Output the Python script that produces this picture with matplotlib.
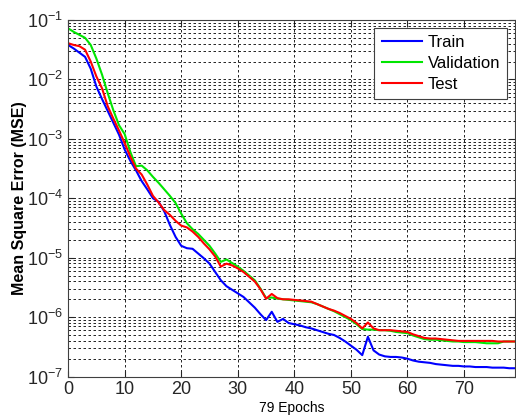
import numpy as np
import matplotlib
matplotlib.use("Agg")
import matplotlib.pyplot as plt
from matplotlib.ticker import LogLocator, MultipleLocator, NullFormatter

plt.rcParams['font.family'] = ['Liberation Sans', 'DejaVu Sans']

# epochs 0..79, values as log10(MSE)
epochs = np.arange(80)

train_log10 = [
	-1.42, -1.48, -1.55, -1.62, -1.82, -2.12, -2.33, -2.53, -2.73, -2.93,
	-3.18, -3.37, -3.53, -3.71, -3.85, -4.00, -4.06, -4.22, -4.45, -4.65,
	-4.80, -4.84, -4.85, -4.93, -5.01, -5.10, -5.24, -5.38, -5.48, -5.54,
	-5.60, -5.66, -5.75, -5.84, -5.95, -6.05, -5.91, -6.08, -6.03, -6.10,
	-6.12, -6.14, -6.17, -6.19, -6.22, -6.25, -6.28, -6.30, -6.35, -6.41,
	-6.48, -6.55, -6.64, -6.33, -6.56, -6.63, -6.66, -6.67, -6.67, -6.68,
	-6.70, -6.73, -6.75, -6.76, -6.77, -6.79, -6.80, -6.81, -6.82, -6.82,
	-6.83, -6.83, -6.84, -6.84, -6.84, -6.85, -6.85, -6.85, -6.86, -6.86,
]

validation_log10 = [
	-1.14, -1.20, -1.25, -1.30, -1.42, -1.65, -1.92, -2.23, -2.52, -2.77,
	-2.92, -3.22, -3.46, -3.45, -3.53, -3.64, -3.74, -3.85, -3.96, -4.08,
	-4.26, -4.42, -4.52, -4.60, -4.70, -4.80, -4.93, -5.07, -5.03, -5.09,
	-5.15, -5.22, -5.30, -5.38, -5.52, -5.68, -5.67, -5.69, -5.70, -5.71,
	-5.72, -5.73, -5.74, -5.75, -5.78, -5.82, -5.86, -5.90, -5.95, -6.00,
	-6.05, -6.12, -6.20, -6.21, -6.21, -6.22, -6.22, -6.23, -6.25, -6.26,
	-6.27, -6.31, -6.34, -6.37, -6.38, -6.38, -6.39, -6.40, -6.41, -6.41,
	-6.42, -6.42, -6.42, -6.43, -6.44, -6.44, -6.44, -6.41, -6.41, -6.41,
]

test_log10 = [
	-1.39, -1.42, -1.44, -1.50, -1.70, -1.95, -2.15, -2.45, -2.66, -2.86,
	-3.07, -3.30, -3.50, -3.60, -3.77, -3.96, -4.07, -4.20, -4.28, -4.38,
	-4.46, -4.49, -4.56, -4.65, -4.76, -4.86, -4.98, -5.15, -5.10, -5.13,
	-5.18, -5.24, -5.32, -5.40, -5.53, -5.69, -5.61, -5.68, -5.70, -5.70,
	-5.71, -5.72, -5.73, -5.74, -5.78, -5.82, -5.86, -5.89, -5.93, -5.98,
	-6.03, -6.10, -6.19, -6.09, -6.19, -6.22, -6.22, -6.22, -6.23, -6.24,
	-6.25, -6.29, -6.32, -6.35, -6.36, -6.36, -6.37, -6.38, -6.39, -6.40,
	-6.40, -6.40, -6.40, -6.40, -6.40, -6.40, -6.41, -6.41, -6.41, -6.41,
]

series = [
	("Train", train_log10, (0, 0, 1)),
	("Validation", validation_log10, (0, 0.9, 0)),
	("Test", test_log10, (1, 0, 0)),
]

fig = plt.figure(figsize=(5.16, 4.17), dpi=100)
ax = fig.add_axes([0.132, 0.097, 0.866, 0.855])

for name, vals, col in series:
	ax.semilogy(epochs, 10 ** np.asarray(vals), color=col, lw=1.5, label=name)

ax.set_xlim(0, 79)
ax.set_ylim(1e-7, 1e-1)
ax.xaxis.set_major_locator(MultipleLocator(10))
ax.yaxis.set_major_locator(LogLocator(base=10, numticks=10))
ax.yaxis.set_minor_locator(LogLocator(base=10, subs=np.arange(2, 10), numticks=20))
ax.yaxis.set_minor_formatter(NullFormatter())

grid_kw = dict(color='black', linestyle=(0, (3, 3)), linewidth=0.6)
ax.grid(True, which='major', axis='both', **grid_kw)
ax.grid(True, which='minor', axis='y', **grid_kw)
ax.set_axisbelow(True)

ax.tick_params(which='both', direction='in', top=True, right=True, labelsize=13, colors='#262626')
ax.tick_params(which='minor', length=0)
ax.tick_params(which='major', length=4)
for sp in ax.spines.values():
	sp.set_color('#404040')
	sp.set_linewidth(0.8)

ax.set_xlabel("79 Epochs", fontsize=10, labelpad=2)
ax.set_ylabel("Mean Square Error (MSE)", fontsize=11.5, fontweight='bold', labelpad=0)

leg = ax.legend(loc='upper right', fontsize=12, fancybox=False, framealpha=1,
	edgecolor='#404040', handlelength=2.4, borderpad=0.45, labelspacing=0.35,
	handletextpad=0.35, borderaxespad=0.45)
leg.get_frame().set_linewidth(0.8)

fig.savefig("out.png", dpi=100)
